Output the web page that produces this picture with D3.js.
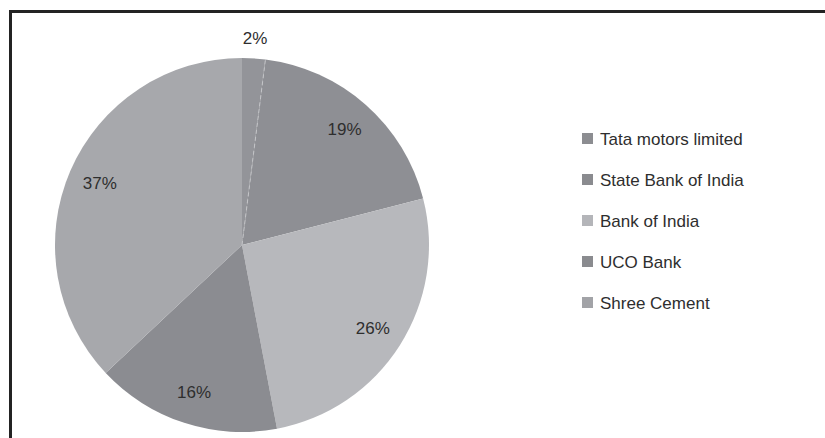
<!DOCTYPE html>
<html>
<head>
<meta charset="utf-8">
<script src="https://cdn.jsdelivr.net/npm/d3@7"></script>
<style>
  body { margin: 0; background: #fff; }
  svg { display: block; }
</style>
</head>
<body>
<svg id="chart"></svg>
<script>
var width = 825;
var height = 438;

// data
var companies = ["Tata motors limited", "State Bank of India", "Bank of India", "UCO Bank", "Shree Cement"];
var shares = [2, 19, 26, 16, 37];
var sliceColors = ["#939499", "#8e8f94", "#b7b8bc", "#8b8c91", "#a7a8ac"];
var keyColors = ["#8c8d91", "#8a8b8f", "#b4b5b9", "#8a8b8f", "#a2a3a7"];

var svg = d3.select("#chart").attr("width", width).attr("height", height);

// frame (only top and left edges show, the rest is cropped)
svg.append("rect")
  .attr("x", 10.5)
  .attr("y", 11.5)
  .attr("width", width + 20)
  .attr("height", height + 20)
  .attr("fill", "none")
  .attr("stroke", "#232323")
  .attr("stroke-width", 3);

var cx = 242, cy = 245, radius = 187;

var pie = d3.pie().sort(null).value(function (d) { return d.value; });
var arc = d3.arc().innerRadius(0).outerRadius(radius);
var labelArc = d3.arc().innerRadius(155).outerRadius(155);
var outerArc = d3.arc().innerRadius(radius + 20).outerRadius(radius + 20);

var rows = companies.map(function (c, i) {
  return {name: c, value: shares[i], color: sliceColors[i], key: keyColors[i]};
});

var g = svg.append("g").attr("transform", "translate(" + cx + "," + cy + ")");

g.selectAll("path")
  .data(pie(rows))
  .enter()
  .append("path")
  .attr("d", arc)
  .attr("fill", function (d) { return d.data.color; });

// faint dotted seam after the tiny first slice
var first = pie(rows)[0];
g.append("line")
  .attr("x1", 0).attr("y1", 0)
  .attr("x2", Math.sin(first.endAngle) * radius)
  .attr("y2", -Math.cos(first.endAngle) * radius)
  .attr("stroke", "#c4c5c8")
  .attr("stroke-width", 1)
  .attr("stroke-dasharray", "4,3");

g.selectAll("text.pct")
  .data(pie(rows))
  .enter()
  .append("text")
  .attr("class", "pct")
  .attr("transform", function (d) {
    var p = d.data.value < 5 ? outerArc.centroid(d) : labelArc.centroid(d);
    return "translate(" + p[0] + "," + p[1] + ")";
  })
  .attr("text-anchor", "middle")
  .attr("dy", "0.35em")
  .style("font-family", "Liberation Sans, Arial, sans-serif")
  .style("font-size", "17px")
  .style("fill", "#2e2e2e")
  .text(function (d) { return d.data.value + "%"; });

// legend
var legend = svg.append("g").attr("transform", "translate(582,139)");

var item = legend.selectAll("g")
  .data(rows)
  .enter()
  .append("g")
  .attr("transform", function (d, i) { return "translate(0," + (i * 41) + ")"; });

item.append("rect")
  .attr("x", 0)
  .attr("y", -6)
  .attr("width", 11)
  .attr("height", 11)
  .attr("fill", function (d) { return d.key; });

item.append("text")
  .attr("x", 18)
  .attr("dy", "0.35em")
  .style("font-family", "Liberation Sans, Arial, sans-serif")
  .style("font-size", "17px")
  .style("fill", "#2e2e2e")
  .text(function (d) { return d.name; });
</script>
</body>
</html>
